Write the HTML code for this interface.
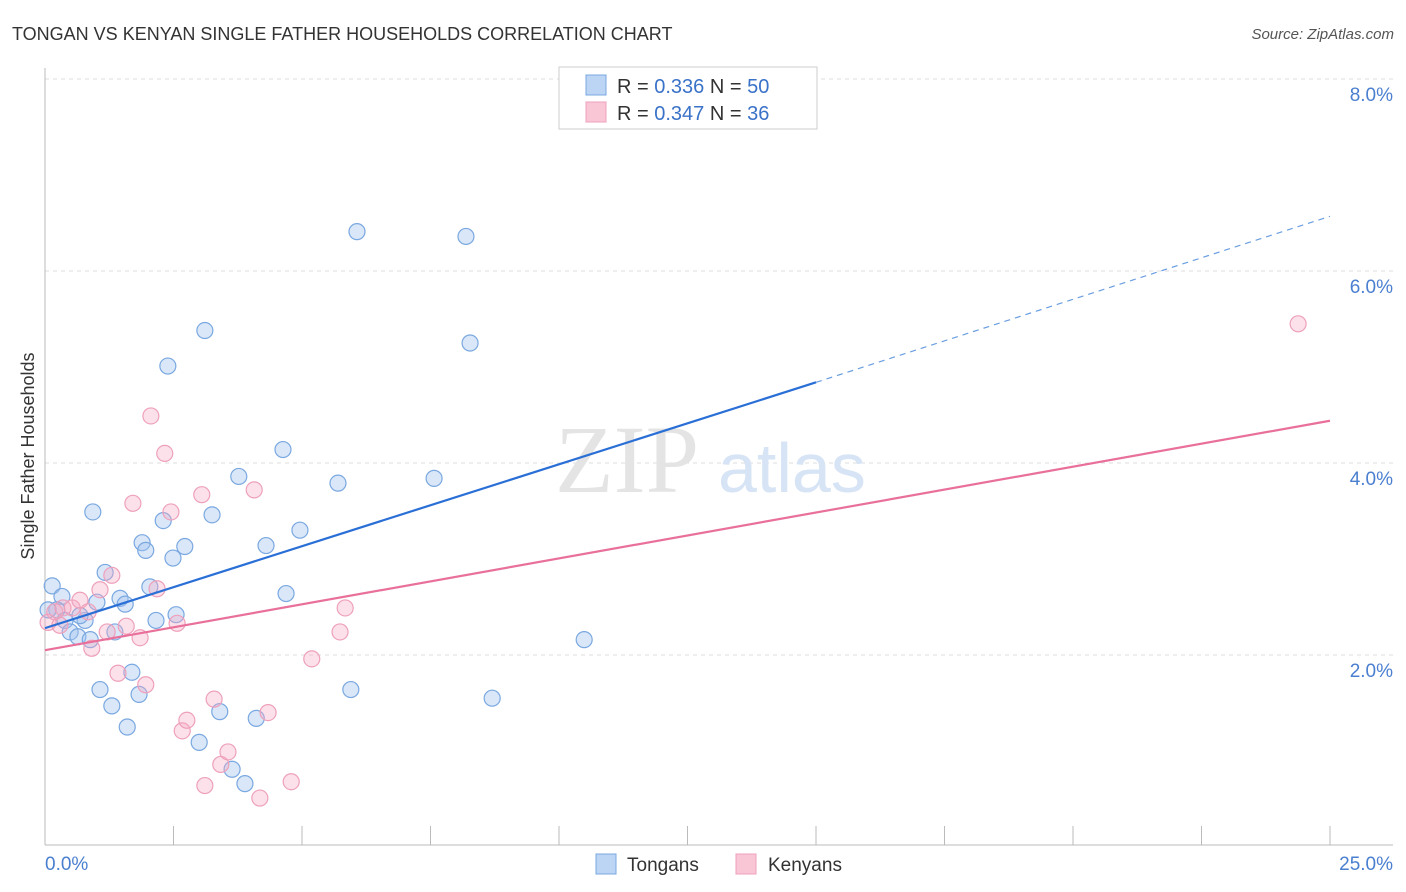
<!DOCTYPE html>
<html><head><meta charset="utf-8"><style>
body{margin:0;background:#fff;font-family:"Liberation Sans",sans-serif}
</style></head><body>
<svg id="chart" width="1406" height="892" xmlns="http://www.w3.org/2000/svg" style="display:block">
<text x="12" y="40" font-size="18" fill="#333">TONGAN VS KENYAN SINGLE FATHER HOUSEHOLDS CORRELATION CHART</text>
<text x="1394" y="39" font-size="15" fill="#555" text-anchor="end" font-style="italic">Source: ZipAtlas.com</text>
<text transform="translate(34,456) rotate(-90)" font-size="18" fill="#333" text-anchor="middle">Single Father Households</text>
<g id="grid"></g>
<g id="axes"></g>
<text x="555" y="492" font-size="96" fill="#e4e4e4" font-family="Liberation Serif">ZIP</text>
<text x="718" y="492" font-size="70" fill="#d6e4f5">atlas</text>
<g id="pts"></g>
<g id="lines"></g>
<g>
<rect x="559" y="67" width="258" height="62" fill="#fff" stroke="#ccc"/>
<rect x="586" y="75" width="20" height="20" fill="#bcd5f5" stroke="#7aa8e0"/>
<text x="617" y="93" font-size="20" fill="#333">R = <tspan fill="#3a72c8">0.336</tspan>   N = <tspan fill="#3a72c8">50</tspan></text>
<rect x="586" y="102" width="20" height="20" fill="#f9c6d5" stroke="#eea0bb"/>
<text x="617" y="120" font-size="20" fill="#333">R = <tspan fill="#3a72c8">0.347</tspan>   N = <tspan fill="#3a72c8">36</tspan></text>
</g>
<g>
<rect x="596" y="854" width="20" height="20" fill="#bcd5f5" stroke="#7aa8e0"/>
<text x="627" y="871" font-size="19" fill="#333">Tongans</text>
<rect x="736" y="854" width="20" height="20" fill="#f9c6d5" stroke="#eea0bb"/>
<text x="768" y="871" font-size="19" fill="#333">Kenyans</text>
</g>
</svg>
<script>
const tonganX=[.14,.33,.23,.06,.39,.49,.64,.78,.88,1.01,.93,1.17,1.46,1.56,1.36,1.07,1.30,1.60,1.69,1.83,1.89,1.96,2.04,2.16,2.30,2.39,2.49,2.55,2.72,3.00,3.11,3.25,3.40,3.64,3.77,3.89,4.11,4.30,4.63,4.69,4.96,5.70,5.95,6.07,7.57,8.19,8.27,8.70,10.49,.68];
const tonganY=[2.72,2.61,2.47,2.47,2.36,2.24,2.19,2.36,2.16,2.55,3.49,2.86,2.59,2.53,2.24,1.64,1.47,1.25,1.82,1.59,3.17,3.09,2.71,2.36,3.40,5.01,3.01,2.42,3.13,1.09,5.38,3.46,1.41,.81,3.86,.66,1.34,3.14,4.14,2.64,3.30,3.79,1.64,6.41,3.84,6.36,5.25,1.55,2.16,2.41];
const kenyanX=[.06,.19,.35,.53,.68,.84,.91,1.07,1.21,1.30,1.42,1.58,1.71,1.85,1.96,2.06,2.18,2.33,2.45,2.57,2.67,2.76,3.05,3.11,3.29,3.42,3.56,4.07,4.18,4.34,4.79,5.19,5.74,5.84,24.38,.29];
const kenyanY=[2.34,2.45,2.49,2.49,2.57,2.45,2.07,2.68,2.24,2.83,1.81,2.30,3.58,2.18,1.69,4.49,2.69,4.10,3.49,2.33,1.21,1.32,3.67,.64,1.54,.86,.99,3.72,.51,1.40,.68,1.96,2.24,2.49,5.45,2.31];
const yTicks=[2,4,6,8];
const yTickLabels=["2.0%","4.0%","6.0%","8.0%"];
const blueTrend=[2.28,4.84,6.57]; // at x=0,15,25
const pinkTrend=[2.05,4.44]; // at x=0,25
const X=v=>45+v*51.4, Y=v=>847-v*96;
const NS="http://www.w3.org/2000/svg";
function mk(t,a,p){const e=document.createElementNS(NS,t);for(const k in a)e.setAttribute(k,a[k]);p.appendChild(e);return e;}
const grid=document.getElementById('grid'),axes=document.getElementById('axes');
yTicks.forEach((t,i)=>{
 const l=mk('line',{x1:45,x2:1393,y1:Y(t),y2:Y(t),stroke:'#ddd','stroke-dasharray':'4,4'},grid);
 
 
 const tx=mk('text',{x:1393,y:Y(t)+22,'font-size':19,fill:'#4a7fd0','text-anchor':'end'},axes);
 tx.textContent=yTickLabels[i];
 
 
});
mk('line',{x1:45,x2:1393,y1:845,y2:845,stroke:'#bbb'},axes);
mk('line',{x1:45,x2:45,y1:68,y2:845,stroke:'#bbb'},axes);
for(let i=0;i<=10;i++){const t=mk('line',{x1:X(i*2.5),x2:X(i*2.5),y1:826,y2:845,stroke:'#bbb'},axes);
 
 }
const a=mk('text',{x:45,y:870,'font-size':19,fill:'#4a7fd0'},axes);a.textContent='0.0%';
const b=mk('text',{x:1393,y:870,'font-size':19,fill:'#4a7fd0','text-anchor':'end'},axes);b.textContent='25.0%';
const pts=document.getElementById('pts');
tonganX.forEach((x,i)=>{const c=mk('circle',{cx:X(x),cy:Y(tonganY[i]),r:8,fill:'rgba(160,196,240,0.4)',stroke:'#7aa8e0','stroke-width':1.2},pts);
 
 });
kenyanX.forEach((x,i)=>{const c=mk('circle',{cx:X(x),cy:Y(kenyanY[i]),r:8,fill:'rgba(245,170,195,0.35)',stroke:'#eea0bb','stroke-width':1.2},pts);
 
 });
const lines=document.getElementById('lines');
const l1=mk('line',{x1:X(0),y1:Y(blueTrend[0]),x2:X(15),y2:Y(blueTrend[1]),stroke:'#2a6fd6','stroke-width':2.2},lines);


const l2=mk('line',{x1:X(15),y1:Y(blueTrend[1]),x2:X(25),y2:Y(blueTrend[2]),stroke:'#6a9ee0','stroke-width':1.2,'stroke-dasharray':'6,5'},lines);


const l3=mk('line',{x1:X(0),y1:Y(pinkTrend[0]),x2:X(25),y2:Y(pinkTrend[1]),stroke:'#e8709a','stroke-width':2.2},lines);


</script>
</body></html>
